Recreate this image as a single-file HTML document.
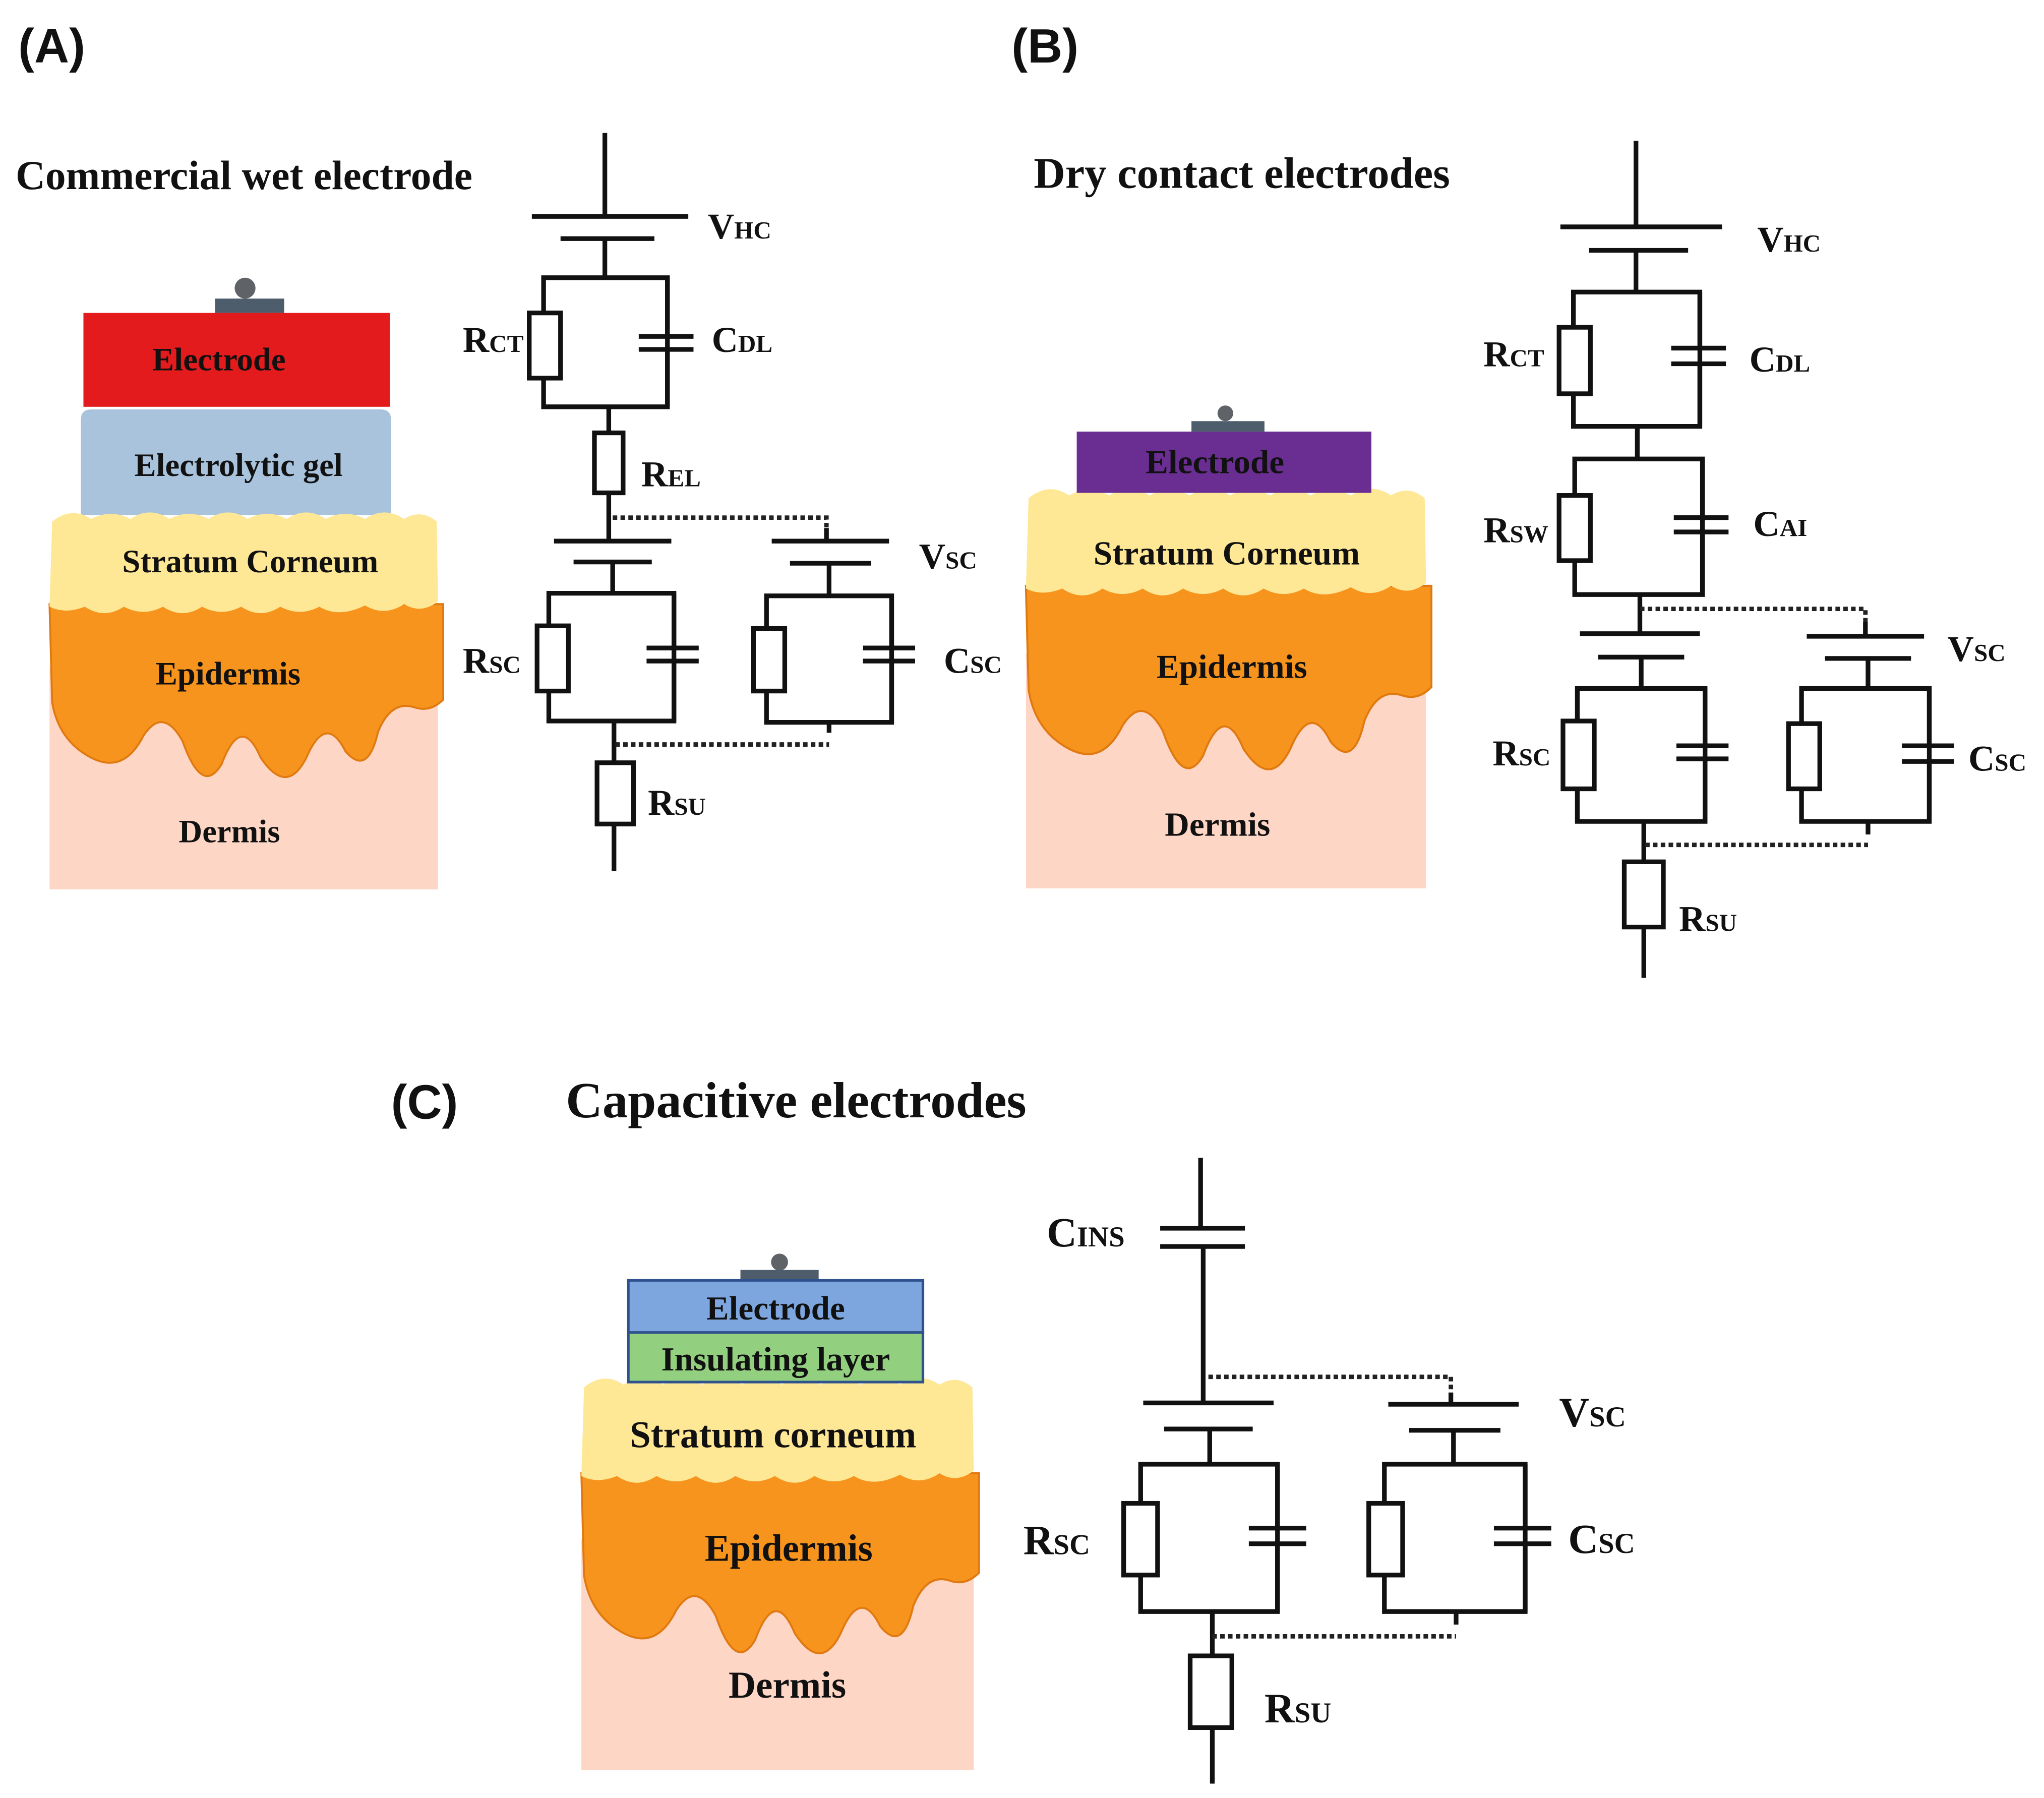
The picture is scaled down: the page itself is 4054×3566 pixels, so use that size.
<!DOCTYPE html>
<html><head><meta charset="utf-8"><style>
html,body{margin:0;padding:0;background:#fff;}
svg{display:block;}
.t{font-family:"Liberation Serif",serif;font-weight:bold;fill:#111;}
.s{font-family:"Liberation Serif",serif;font-weight:bold;fill:#111;font-size:28px;}
.s tspan.b{font-size:19px;}
.p{font-family:"Liberation Sans",sans-serif;font-weight:bold;font-size:37px;fill:#111;}
.w{stroke:#111;stroke-width:3.6;fill:none;stroke-linecap:butt;}
.r{stroke:#111;stroke-width:3.6;fill:#fff;}
.d{stroke:#222;stroke-width:3.4;fill:none;stroke-dasharray:3.5 2.5;}
</style></head><body>
<svg width="4054" height="3566" viewBox="0 0 1568 1379" preserveAspectRatio="none" xmlns="http://www.w3.org/2000/svg">
<defs>
<g id="skin">
<rect x="0" y="115" width="298" height="172" fill="#fdd6c6"/>
<path d="M0,66 L302,66 L302,140 Q292,150 280,146 Q262,140 252,165 Q244,200 227,180 Q212,150 197,185 Q182,215 162,185 Q147,150 132,190 Q117,215 102,172 Q87,145 72,168 Q57,198 32,185 Q7,172 2,142 Z" fill="#f7941d" stroke="#e07a10" stroke-width="1.5"/>
<path d="M2,2 Q17,-10 32,0 Q47,-8 62,0 Q77,-10 92,0 Q107,-8 122,0 Q137,-10 152,0 Q167,-8 182,0 Q197,-10 212,0 Q227,-8 242,0 Q257,-10 272,0 Q285,-8 297,2 L298,64 Q285,74 272,66 Q257,76 242,67 Q222,77 207,68 Q192,76 177,68 Q162,78 147,68 Q132,76 117,68 Q102,78 87,68 Q72,76 57,68 Q42,78 27,68 Q12,74 0,68 Z" fill="#fee795"/>
</g>
</defs>

<text class="p" x="14" y="48">(A)</text>
<text class="p" x="776" y="48">(B)</text>
<text class="p" x="300" y="858">(C)</text>
<text class="t" x="12" y="145" font-size="31.5">Commercial wet electrode</text>
<text class="t" x="793" y="144" font-size="33.5">Dry contact electrodes</text>
<text class="t" x="434" y="857" font-size="39">Capacitive electrodes</text>

<!-- Skin A -->
<path d="M62,322 Q62,314 70,314 L292,314 Q300,314 300,322 L300,395 L62,395 Z" fill="#a9c3dc"/>
<use href="#skin" transform="translate(38,398) scale(1,0.99)"/>
<circle cx="188" cy="221" r="8" fill="#5f6266"/>
<rect x="165" y="229" width="53" height="11" fill="#4e5d6c"/>
<rect x="64" y="240" width="235" height="72" fill="#e31b1c"/>
<text class="t" x="168" y="284" font-size="25" text-anchor="middle">Electrode</text>
<text class="t" x="183" y="365" font-size="25" text-anchor="middle">Electrolytic gel</text>
<text class="t" x="192" y="439" font-size="25" text-anchor="middle">Stratum Corneum</text>
<text class="t" x="175" y="525" font-size="25" text-anchor="middle">Epidermis</text>
<text class="t" x="176" y="646" font-size="25" text-anchor="middle">Dermis</text>

<!-- Circuit A -->
<path class="w" d="M464,102 V166 M408,166 H528 M430,183 H502 M464,183 V213 M417,213 H512 V312 H417 Z M467,312 V415 M425,415 H515 M440,431 H500 M470,431 V455 M421,455 H517 V553 H421 Z M471,553 V668 M634,405 V415 M592,415 H682 M606,432 H668 M636,432 V457 M588,457 H684 V554 H588 Z M636,554 V562"/>
<path class="w" d="M512,213 V258 M512,268 V312 M490,258 H532 M490,268 H532"/>
<rect class="r" x="406" y="240" width="24" height="50"/>
<rect class="r" x="456" y="332" width="22" height="46"/>
<path class="w" d="M517,455 V497 M517,507 V553 M496,497 H536 M496,507 H536 M684,457 V497 M684,507 V554 M662,497 H702 M662,507 H702"/>
<rect class="r" x="412" y="480" width="24" height="50"/>
<rect class="r" x="578" y="482" width="24" height="48"/>
<rect class="r" x="458" y="585" width="28" height="47"/>
<path class="d" d="M470,397 H634 V405 M472,571 H636"/>
<text class="s" x="543" y="183">V<tspan class="b">HC</tspan></text>
<text class="s" x="355" y="270">R<tspan class="b">CT</tspan></text>
<text class="s" x="546" y="270">C<tspan class="b">DL</tspan></text>
<text class="s" x="492" y="373">R<tspan class="b">EL</tspan></text>
<text class="s" x="705" y="436">V<tspan class="b">SC</tspan></text>
<text class="s" x="355" y="516">R<tspan class="b">SC</tspan></text>
<text class="s" x="724" y="516">C<tspan class="b">SC</tspan></text>
<text class="s" x="497" y="625">R<tspan class="b">SU</tspan></text>

<!-- Skin B -->
<use href="#skin" transform="translate(787,380) scale(1.03,1.05)"/>
<circle cx="940" cy="317" r="6" fill="#5f6266"/>
<rect x="914" y="323" width="56" height="8" fill="#4e5d6c"/>
<rect x="826" y="331" width="226" height="47" fill="#6a2d91"/>
<text class="t" x="932" y="363" font-size="26" text-anchor="middle">Electrode</text>
<text class="t" x="941" y="433" font-size="26" text-anchor="middle">Stratum Corneum</text>
<text class="t" x="945" y="520" font-size="26" text-anchor="middle">Epidermis</text>
<text class="t" x="934" y="641" font-size="26" text-anchor="middle">Dermis</text>

<!-- Circuit B -->
<path class="w" d="M1255,108 V174 M1197,174 H1321 M1219,192 H1295 M1255,192 V224 M1207,224 H1304 V327 H1207 Z M1256,327 V352 M1208,352 H1306 V456 H1208 Z M1258,456 V486 M1212,486 H1304 M1226,504 H1292 M1259,504 V528 M1210,528 H1308 V630 H1210 Z M1261,630 V750 M1431,477 V488 M1386,488 H1476 M1400,505 H1466 M1433,505 V528 M1382,528 H1480 V630 H1382 Z M1433,630 V640"/>
<path class="w" d="M1304,224 V267 M1304,279 V327 M1282,267 H1324 M1282,279 H1324 M1306,352 V397 M1306,408 V456 M1284,397 H1326 M1284,408 H1326 M1308,528 V572 M1308,582 V630 M1286,572 H1326 M1286,582 H1326 M1480,528 V572 M1480,584 V630 M1459,572 H1499 M1459,584 H1499"/>
<rect class="r" x="1196" y="251" width="24" height="51"/>
<rect class="r" x="1196" y="380" width="24" height="50"/>
<rect class="r" x="1199" y="553" width="24" height="52"/>
<rect class="r" x="1372" y="555" width="24" height="50"/>
<rect class="r" x="1246" y="661" width="30" height="50"/>
<path class="d" d="M1258,467 H1431 V477 M1262,648 H1433"/>
<text class="s" x="1348" y="193">V<tspan class="b">HC</tspan></text>
<text class="s" x="1138" y="281">R<tspan class="b">CT</tspan></text>
<text class="s" x="1342" y="285">C<tspan class="b">DL</tspan></text>
<text class="s" x="1138" y="416">R<tspan class="b">SW</tspan></text>
<text class="s" x="1345" y="411">C<tspan class="b">AI</tspan></text>
<text class="s" x="1494" y="507">V<tspan class="b">SC</tspan></text>
<text class="s" x="1145" y="587">R<tspan class="b">SC</tspan></text>
<text class="s" x="1510" y="591">C<tspan class="b">SC</tspan></text>
<text class="s" x="1288" y="714">R<tspan class="b">SU</tspan></text>

<!-- Skin C -->
<use href="#skin" transform="translate(446,1062) scale(1.01,1.03)"/>
<circle cx="598" cy="968" r="6.5" fill="#5f6266"/>
<rect x="568" y="974" width="60" height="8" fill="#4e5d6c"/>
<rect x="482" y="982" width="226" height="40" fill="#7ea6de" stroke="#2f528f" stroke-width="2"/>
<rect x="482" y="1022" width="226" height="38" fill="#92cf7e" stroke="#2f528f" stroke-width="2"/>
<text class="t" x="595" y="1012" font-size="26" text-anchor="middle">Electrode</text>
<text class="t" x="595" y="1051" font-size="26" text-anchor="middle">Insulating layer</text>
<text class="t" x="593" y="1110" font-size="29" text-anchor="middle">Stratum corneum</text>
<text class="t" x="605" y="1197" font-size="29" text-anchor="middle">Epidermis</text>
<text class="t" x="604" y="1302" font-size="29" text-anchor="middle">Dermis</text>

<!-- Circuit C -->
<path class="w" d="M921,888 V942 M890,942 H955 M890,956 H955 M923,956 V1076 M877,1076 H977 M893,1096 H961 M928,1096 V1123 M875,1123 H980 V1236 H875 Z M930,1236 V1368 M1113,1068 V1077 M1065,1077 H1165 M1081,1097 H1151 M1115,1097 V1123 M1062,1123 H1170 V1236 H1062 Z M1117,1236 V1246"/>
<path class="w" d="M980,1123 V1172 M980,1184 V1236 M958,1172 H1002 M958,1184 H1002 M1170,1123 V1172 M1170,1184 V1236 M1146,1172 H1190 M1146,1184 H1190"/>
<rect class="r" x="862" y="1153" width="26" height="55"/>
<rect class="r" x="1050" y="1153" width="26" height="55"/>
<rect class="r" x="913" y="1270" width="32" height="55"/>
<path class="d" d="M927,1056 H1113 V1068 M930,1255 H1117"/>
<text class="s" x="803" y="956" style="font-size:32px">C<tspan class="b" style="font-size:22px">INS</tspan></text>
<text class="s" x="1196" y="1094" style="font-size:32px">V<tspan class="b" style="font-size:22px">SC</tspan></text>
<text class="s" x="785" y="1192" style="font-size:32px">R<tspan class="b" style="font-size:22px">SC</tspan></text>
<text class="s" x="1203" y="1191" style="font-size:32px">C<tspan class="b" style="font-size:22px">SC</tspan></text>
<text class="s" x="970" y="1321" style="font-size:32px">R<tspan class="b" style="font-size:22px">SU</tspan></text>
</svg>
</body></html>
